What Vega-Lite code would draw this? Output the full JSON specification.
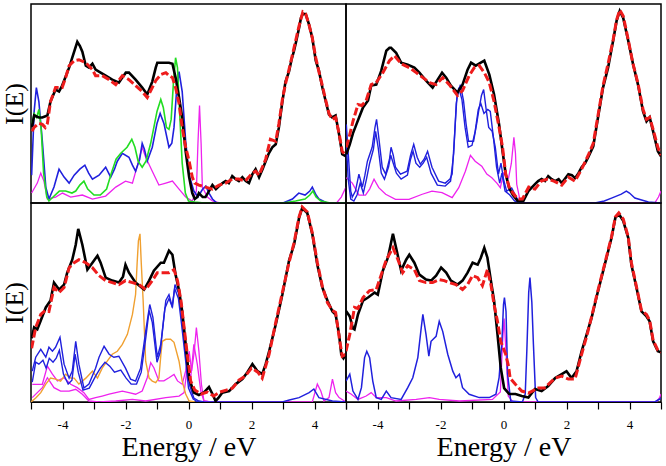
{
"$schema": "https://vega.github.io/schema/vega-lite/v6.json",
"padding": {"left": 0, "top": 3, "right": 3, "bottom": 0},
"background": "white",
"config": {"font": "Liberation Serif", "view": {"stroke": "black", "strokeWidth": 1.5}, "axis": {"grid": false}},
"columns": 2,
"spacing": 0,
"bounds": "flush",
"datasets": {
"fermi": [{"x": 0}],
"ak": [{"x":-4.97,"y":0.38},{"x":-4.9,"y":0.44},{"x":-4.75,"y":0.43},{"x":-4.64,"y":0.43},{"x":-4.48,"y":0.44},{"x":-4.38,"y":0.51},{"x":-4.22,"y":0.57},{"x":-4.11,"y":0.56},{"x":-4.01,"y":0.59},{"x":-3.79,"y":0.68},{"x":-3.69,"y":0.73},{"x":-3.53,"y":0.81},{"x":-3.45,"y":0.79},{"x":-3.37,"y":0.76},{"x":-3.26,"y":0.69},{"x":-3.16,"y":0.68},{"x":-3.05,"y":0.7},{"x":-2.95,"y":0.67},{"x":-2.79,"y":0.655},{"x":-2.63,"y":0.64},{"x":-2.42,"y":0.62},{"x":-2.21,"y":0.605},{"x":-2.1,"y":0.63},{"x":-1.99,"y":0.655},{"x":-1.89,"y":0.655},{"x":-1.68,"y":0.62},{"x":-1.47,"y":0.58},{"x":-1.31,"y":0.545},{"x":-1.15,"y":0.61},{"x":-1.04,"y":0.68},{"x":-0.99,"y":0.705},{"x":-0.62,"y":0.705},{"x":-0.51,"y":0.7},{"x":-0.41,"y":0.63},{"x":-0.3,"y":0.53},{"x":-0.2,"y":0.43},{"x":-0.09,"y":0.26},{"x":0.02,"y":0.13},{"x":0.12,"y":0.05},{"x":0.2,"y":0.02},{"x":0.28,"y":0.03},{"x":0.33,"y":0.05},{"x":0.45,"y":0.03},{"x":0.54,"y":0.03},{"x":0.65,"y":0.06},{"x":0.76,"y":0.09},{"x":0.87,"y":0.07},{"x":0.97,"y":0.085},{"x":1.08,"y":0.1},{"x":1.18,"y":0.11},{"x":1.28,"y":0.1},{"x":1.39,"y":0.135},{"x":1.5,"y":0.12},{"x":1.6,"y":0.11},{"x":1.71,"y":0.13},{"x":1.82,"y":0.11},{"x":1.92,"y":0.1},{"x":2.03,"y":0.145},{"x":2.13,"y":0.17},{"x":2.24,"y":0.13},{"x":2.35,"y":0.17},{"x":2.45,"y":0.21},{"x":2.55,"y":0.25},{"x":2.66,"y":0.28},{"x":2.77,"y":0.295},{"x":2.87,"y":0.38},{"x":2.98,"y":0.51},{"x":3.08,"y":0.61},{"x":3.19,"y":0.66},{"x":3.27,"y":0.72},{"x":3.35,"y":0.765},{"x":3.43,"y":0.82},{"x":3.51,"y":0.88},{"x":3.57,"y":0.93},{"x":3.63,"y":0.95},{"x":3.72,"y":0.95},{"x":3.82,"y":0.9},{"x":3.93,"y":0.83},{"x":4.04,"y":0.715},{"x":4.14,"y":0.665},{"x":4.25,"y":0.58},{"x":4.35,"y":0.515},{"x":4.46,"y":0.445},{"x":4.56,"y":0.43},{"x":4.67,"y":0.44},{"x":4.78,"y":0.345},{"x":4.88,"y":0.245},{"x":4.99,"y":0.235}],
"ar": [{"x":-4.97,"y":0.36},{"x":-4.9,"y":0.38},{"x":-4.75,"y":0.4},{"x":-4.64,"y":0.395},{"x":-4.55,"y":0.38},{"x":-4.48,"y":0.4},{"x":-4.38,"y":0.51},{"x":-4.22,"y":0.58},{"x":-4.01,"y":0.58},{"x":-3.9,"y":0.63},{"x":-3.79,"y":0.69},{"x":-3.63,"y":0.715},{"x":-3.48,"y":0.72},{"x":-3.26,"y":0.705},{"x":-3.05,"y":0.67},{"x":-2.95,"y":0.64},{"x":-2.74,"y":0.64},{"x":-2.52,"y":0.62},{"x":-2.31,"y":0.595},{"x":-2.1,"y":0.64},{"x":-1.89,"y":0.62},{"x":-1.68,"y":0.59},{"x":-1.47,"y":0.56},{"x":-1.31,"y":0.53},{"x":-1.15,"y":0.58},{"x":-1.04,"y":0.615},{"x":-0.88,"y":0.645},{"x":-0.72,"y":0.655},{"x":-0.62,"y":0.64},{"x":-0.51,"y":0.63},{"x":-0.41,"y":0.58},{"x":-0.3,"y":0.5},{"x":-0.2,"y":0.38},{"x":-0.09,"y":0.28},{"x":0.02,"y":0.21},{"x":0.12,"y":0.13},{"x":0.2,"y":0.1},{"x":0.33,"y":0.09},{"x":0.54,"y":0.08},{"x":0.76,"y":0.07},{"x":0.97,"y":0.09},{"x":1.18,"y":0.1},{"x":1.39,"y":0.12},{"x":1.6,"y":0.12},{"x":1.8,"y":0.11},{"x":2.03,"y":0.15},{"x":2.13,"y":0.16},{"x":2.24,"y":0.14},{"x":2.45,"y":0.22},{"x":2.6,"y":0.32},{"x":2.77,"y":0.31},{"x":2.87,"y":0.4},{"x":2.98,"y":0.52},{"x":3.08,"y":0.6},{"x":3.19,"y":0.67},{"x":3.35,"y":0.78},{"x":3.51,"y":0.89},{"x":3.63,"y":0.96},{"x":3.72,"y":0.95},{"x":3.82,"y":0.9},{"x":3.93,"y":0.83},{"x":4.04,"y":0.73},{"x":4.14,"y":0.66},{"x":4.25,"y":0.59},{"x":4.35,"y":0.52},{"x":4.46,"y":0.45},{"x":4.56,"y":0.42},{"x":4.67,"y":0.43},{"x":4.78,"y":0.35},{"x":4.88,"y":0.26},{"x":4.99,"y":0.24}],
"ab": [{"x":-4.98,"y":0.14},{"x":-4.9,"y":0.46},{"x":-4.83,"y":0.58},{"x":-4.75,"y":0.51},{"x":-4.64,"y":0.31},{"x":-4.53,"y":0.08},{"x":-4.43,"y":0.02},{"x":-4.27,"y":0.08},{"x":-4.11,"y":0.17},{"x":-3.95,"y":0.13},{"x":-3.79,"y":0.1},{"x":-3.63,"y":0.14},{"x":-3.45,"y":0.17},{"x":-3.29,"y":0.19},{"x":-3.17,"y":0.15},{"x":-3.05,"y":0.12},{"x":-2.84,"y":0.14},{"x":-2.63,"y":0.18},{"x":-2.47,"y":0.13},{"x":-2.35,"y":0.17},{"x":-2.26,"y":0.21},{"x":-2.1,"y":0.25},{"x":-1.89,"y":0.23},{"x":-1.78,"y":0.19},{"x":-1.68,"y":0.16},{"x":-1.55,"y":0.22},{"x":-1.47,"y":0.3},{"x":-1.4,"y":0.27},{"x":-1.31,"y":0.21},{"x":-1.15,"y":0.28},{"x":-1.0,"y":0.4},{"x":-0.9,"y":0.45},{"x":-0.78,"y":0.4},{"x":-0.62,"y":0.28},{"x":-0.53,"y":0.3},{"x":-0.46,"y":0.38},{"x":-0.38,"y":0.56},{"x":-0.3,"y":0.66},{"x":-0.2,"y":0.56},{"x":-0.09,"y":0.31},{"x":0.02,"y":0.14},{"x":0.17,"y":0.06},{"x":0.3,"y":0.03},{"x":0.45,"y":0.07},{"x":0.55,"y":0.085},{"x":0.65,"y":0.05},{"x":0.76,"y":0.02},{"x":0.9,"y":0.0},{"x":3.0,"y":0.0},{"x":3.3,"y":0.02},{"x":3.5,"y":0.05},{"x":3.7,"y":0.04},{"x":3.85,"y":0.06},{"x":3.93,"y":0.08},{"x":4.05,"y":0.04},{"x":4.14,"y":0.02},{"x":4.4,"y":0.0},{"x":5.0,"y":0.0}],
"ag": [{"x":-4.97,"y":0.4},{"x":-4.9,"y":0.45},{"x":-4.82,"y":0.43},{"x":-4.75,"y":0.47},{"x":-4.68,"y":0.38},{"x":-4.6,"y":0.15},{"x":-4.5,"y":0.03},{"x":-4.43,"y":0.01},{"x":-4.3,"y":0.03},{"x":-4.1,"y":0.06},{"x":-3.9,"y":0.06},{"x":-3.7,"y":0.05},{"x":-3.58,"y":0.06},{"x":-3.45,"y":0.09},{"x":-3.32,"y":0.11},{"x":-3.2,"y":0.07},{"x":-3.0,"y":0.04},{"x":-2.8,"y":0.04},{"x":-2.6,"y":0.07},{"x":-2.45,"y":0.15},{"x":-2.3,"y":0.22},{"x":-2.15,"y":0.25},{"x":-1.95,"y":0.28},{"x":-1.8,"y":0.32},{"x":-1.7,"y":0.28},{"x":-1.6,"y":0.21},{"x":-1.47,"y":0.18},{"x":-1.35,"y":0.21},{"x":-1.2,"y":0.3},{"x":-1.0,"y":0.46},{"x":-0.88,"y":0.52},{"x":-0.8,"y":0.48},{"x":-0.7,"y":0.38},{"x":-0.62,"y":0.37},{"x":-0.55,"y":0.42},{"x":-0.48,"y":0.6},{"x":-0.41,"y":0.73},{"x":-0.35,"y":0.68},{"x":-0.28,"y":0.45},{"x":-0.2,"y":0.2},{"x":-0.1,"y":0.05},{"x":0.0,"y":0.01},{"x":0.2,"y":0.005},{"x":0.5,"y":0.0},{"x":3.0,"y":0.0},{"x":3.4,"y":0.01},{"x":3.7,"y":0.02},{"x":3.85,"y":0.04},{"x":3.95,"y":0.06},{"x":4.05,"y":0.03},{"x":4.2,"y":0.01},{"x":4.5,"y":0.0},{"x":5.0,"y":0.0}],
"am": [{"x":-4.98,"y":0.05},{"x":-4.8,"y":0.1},{"x":-4.69,"y":0.15},{"x":-4.59,"y":0.11},{"x":-4.48,"y":0.02},{"x":-4.22,"y":0.03},{"x":-4.0,"y":0.05},{"x":-3.74,"y":0.03},{"x":-3.37,"y":0.04},{"x":-3.05,"y":0.02},{"x":-2.63,"y":0.035},{"x":-2.31,"y":0.08},{"x":-2.0,"y":0.11},{"x":-1.78,"y":0.1},{"x":-1.62,"y":0.19},{"x":-1.47,"y":0.28},{"x":-1.36,"y":0.23},{"x":-1.15,"y":0.16},{"x":-0.94,"y":0.09},{"x":-0.72,"y":0.1},{"x":-0.51,"y":0.11},{"x":-0.3,"y":0.07},{"x":-0.09,"y":0.03},{"x":0.12,"y":0.01},{"x":0.25,"y":0.06},{"x":0.3,"y":0.3},{"x":0.35,"y":0.49},{"x":0.4,"y":0.3},{"x":0.44,"y":0.08},{"x":0.6,"y":0.03},{"x":0.76,"y":0.01},{"x":1.0,"y":0.0},{"x":4.7,"y":0.0},{"x":4.85,"y":0.03},{"x":5.0,"y":0.08}],
"bk": [{"x":-4.99,"y":0.245},{"x":-4.88,"y":0.295},{"x":-4.78,"y":0.35},{"x":-4.67,"y":0.395},{"x":-4.56,"y":0.44},{"x":-4.46,"y":0.48},{"x":-4.3,"y":0.515},{"x":-4.2,"y":0.59},{"x":-4.04,"y":0.595},{"x":-3.88,"y":0.665},{"x":-3.72,"y":0.765},{"x":-3.62,"y":0.78},{"x":-3.57,"y":0.78},{"x":-3.41,"y":0.755},{"x":-3.25,"y":0.705},{"x":-3.04,"y":0.695},{"x":-2.83,"y":0.68},{"x":-2.67,"y":0.655},{"x":-2.46,"y":0.615},{"x":-2.25,"y":0.58},{"x":-2.09,"y":0.62},{"x":-1.95,"y":0.655},{"x":-1.82,"y":0.63},{"x":-1.67,"y":0.59},{"x":-1.46,"y":0.555},{"x":-1.3,"y":0.595},{"x":-1.14,"y":0.67},{"x":-1.03,"y":0.705},{"x":-0.88,"y":0.69},{"x":-0.72,"y":0.705},{"x":-0.61,"y":0.715},{"x":-0.45,"y":0.645},{"x":-0.3,"y":0.545},{"x":-0.14,"y":0.395},{"x":-0.03,"y":0.26},{"x":0.07,"y":0.145},{"x":0.18,"y":0.075},{"x":0.3,"y":0.04},{"x":0.45,"y":0.01},{"x":0.63,"y":0.01},{"x":0.79,"y":0.06},{"x":1.0,"y":0.095},{"x":1.1,"y":0.11},{"x":1.21,"y":0.12},{"x":1.32,"y":0.11},{"x":1.42,"y":0.135},{"x":1.53,"y":0.12},{"x":1.64,"y":0.11},{"x":1.75,"y":0.12},{"x":1.85,"y":0.1},{"x":2.06,"y":0.145},{"x":2.17,"y":0.14},{"x":2.27,"y":0.125},{"x":2.38,"y":0.15},{"x":2.48,"y":0.18},{"x":2.59,"y":0.2},{"x":2.69,"y":0.23},{"x":2.85,"y":0.285},{"x":3.0,"y":0.43},{"x":3.16,"y":0.58},{"x":3.32,"y":0.68},{"x":3.48,"y":0.815},{"x":3.59,"y":0.915},{"x":3.69,"y":0.965},{"x":3.8,"y":0.93},{"x":3.96,"y":0.815},{"x":4.11,"y":0.7},{"x":4.27,"y":0.595},{"x":4.43,"y":0.46},{"x":4.54,"y":0.41},{"x":4.64,"y":0.43},{"x":4.75,"y":0.36},{"x":4.9,"y":0.26},{"x":5.0,"y":0.235}],
"br": [{"x":-4.99,"y":0.28},{"x":-4.9,"y":0.33},{"x":-4.78,"y":0.41},{"x":-4.62,"y":0.495},{"x":-4.5,"y":0.49},{"x":-4.36,"y":0.515},{"x":-4.2,"y":0.595},{"x":-4.04,"y":0.605},{"x":-3.83,"y":0.655},{"x":-3.62,"y":0.715},{"x":-3.46,"y":0.74},{"x":-3.25,"y":0.7},{"x":-2.99,"y":0.68},{"x":-2.77,"y":0.655},{"x":-2.56,"y":0.63},{"x":-2.35,"y":0.605},{"x":-2.14,"y":0.595},{"x":-1.93,"y":0.63},{"x":-1.72,"y":0.595},{"x":-1.46,"y":0.54},{"x":-1.3,"y":0.565},{"x":-1.09,"y":0.64},{"x":-0.93,"y":0.68},{"x":-0.77,"y":0.69},{"x":-0.61,"y":0.655},{"x":-0.45,"y":0.605},{"x":-0.3,"y":0.51},{"x":-0.14,"y":0.38},{"x":-0.03,"y":0.28},{"x":0.07,"y":0.145},{"x":0.18,"y":0.08},{"x":0.3,"y":0.05},{"x":0.45,"y":0.02},{"x":0.6,"y":0.02},{"x":0.8,"y":0.08},{"x":1.0,"y":0.07},{"x":1.2,"y":0.11},{"x":1.4,"y":0.12},{"x":1.6,"y":0.11},{"x":1.85,"y":0.09},{"x":2.06,"y":0.13},{"x":2.27,"y":0.11},{"x":2.48,"y":0.17},{"x":2.69,"y":0.24},{"x":2.85,"y":0.3},{"x":3.0,"y":0.44},{"x":3.16,"y":0.59},{"x":3.32,"y":0.7},{"x":3.48,"y":0.82},{"x":3.59,"y":0.92},{"x":3.69,"y":0.97},{"x":3.8,"y":0.94},{"x":3.96,"y":0.82},{"x":4.11,"y":0.7},{"x":4.27,"y":0.6},{"x":4.43,"y":0.47},{"x":4.54,"y":0.42},{"x":4.64,"y":0.43},{"x":4.75,"y":0.37},{"x":4.9,"y":0.28},{"x":5.0,"y":0.24}],
"bb1": [{"x":-4.99,"y":0.395},{"x":-4.93,"y":0.25},{"x":-4.85,"y":0.06},{"x":-4.8,"y":0.03},{"x":-4.7,"y":0.06},{"x":-4.59,"y":0.145},{"x":-4.48,"y":0.08},{"x":-4.4,"y":0.14},{"x":-4.32,"y":0.21},{"x":-4.17,"y":0.28},{"x":-4.08,"y":0.38},{"x":-4.03,"y":0.42},{"x":-3.96,"y":0.33},{"x":-3.85,"y":0.18},{"x":-3.74,"y":0.145},{"x":-3.62,"y":0.22},{"x":-3.57,"y":0.28},{"x":-3.5,"y":0.24},{"x":-3.43,"y":0.18},{"x":-3.27,"y":0.145},{"x":-3.06,"y":0.16},{"x":-2.95,"y":0.24},{"x":-2.85,"y":0.295},{"x":-2.74,"y":0.23},{"x":-2.64,"y":0.195},{"x":-2.52,"y":0.22},{"x":-2.41,"y":0.26},{"x":-2.27,"y":0.18},{"x":-2.06,"y":0.11},{"x":-1.85,"y":0.1},{"x":-1.7,"y":0.12},{"x":-1.63,"y":0.145},{"x":-1.55,"y":0.35},{"x":-1.48,"y":0.53},{"x":-1.37,"y":0.595},{"x":-1.27,"y":0.515},{"x":-1.19,"y":0.4},{"x":-1.11,"y":0.31},{"x":-0.95,"y":0.31},{"x":-0.85,"y":0.4},{"x":-0.79,"y":0.46},{"x":-0.7,"y":0.54},{"x":-0.63,"y":0.57},{"x":-0.55,"y":0.47},{"x":-0.47,"y":0.38},{"x":-0.36,"y":0.36},{"x":-0.26,"y":0.28},{"x":-0.16,"y":0.145},{"x":-0.08,"y":0.2},{"x":0.0,"y":0.12},{"x":0.1,"y":0.06},{"x":0.26,"y":0.075},{"x":0.42,"y":0.025},{"x":0.55,"y":0.0},{"x":2.9,"y":0.0},{"x":3.2,"y":0.01},{"x":3.43,"y":0.025},{"x":3.74,"y":0.045},{"x":3.9,"y":0.06},{"x":4.0,"y":0.05},{"x":4.17,"y":0.025},{"x":4.6,"y":0.005},{"x":5.0,"y":0.0}],
"bb2": [{"x":-4.99,"y":0.3},{"x":-4.93,"y":0.12},{"x":-4.85,"y":0.02},{"x":-4.75,"y":0.01},{"x":-4.65,"y":0.04},{"x":-4.55,"y":0.1},{"x":-4.45,"y":0.05},{"x":-4.35,"y":0.12},{"x":-4.25,"y":0.2},{"x":-4.13,"y":0.27},{"x":-4.06,"y":0.36},{"x":-3.98,"y":0.28},{"x":-3.88,"y":0.15},{"x":-3.78,"y":0.12},{"x":-3.65,"y":0.18},{"x":-3.58,"y":0.24},{"x":-3.5,"y":0.2},{"x":-3.4,"y":0.15},{"x":-3.25,"y":0.12},{"x":-3.05,"y":0.14},{"x":-2.95,"y":0.22},{"x":-2.87,"y":0.26},{"x":-2.78,"y":0.2},{"x":-2.66,"y":0.18},{"x":-2.55,"y":0.2},{"x":-2.44,"y":0.23},{"x":-2.3,"y":0.15},{"x":-2.1,"y":0.09},{"x":-1.85,"y":0.085},{"x":-1.68,"y":0.11},{"x":-1.58,"y":0.25},{"x":-1.5,"y":0.5},{"x":-1.42,"y":0.58},{"x":-1.32,"y":0.52},{"x":-1.22,"y":0.38},{"x":-1.12,"y":0.28},{"x":-1.0,"y":0.29},{"x":-0.9,"y":0.36},{"x":-0.8,"y":0.47},{"x":-0.72,"y":0.5},{"x":-0.62,"y":0.45},{"x":-0.5,"y":0.47},{"x":-0.42,"y":0.46},{"x":-0.32,"y":0.33},{"x":-0.22,"y":0.18},{"x":-0.12,"y":0.1},{"x":-0.05,"y":0.15},{"x":0.05,"y":0.06},{"x":0.2,"y":0.04},{"x":0.35,"y":0.01},{"x":0.5,"y":0.0}],
"bm": [{"x":-4.99,"y":0.127},{"x":-4.8,"y":0.1},{"x":-4.59,"y":0.04},{"x":-4.38,"y":0.04},{"x":-4.25,"y":0.07},{"x":-4.11,"y":0.12},{"x":-3.96,"y":0.077},{"x":-3.74,"y":0.044},{"x":-3.43,"y":0.018},{"x":-3.0,"y":0.018},{"x":-2.58,"y":0.044},{"x":-2.27,"y":0.06},{"x":-1.95,"y":0.052},{"x":-1.63,"y":0.027},{"x":-1.42,"y":0.077},{"x":-1.21,"y":0.16},{"x":-1.05,"y":0.24},{"x":-0.9,"y":0.21},{"x":-0.69,"y":0.185},{"x":-0.53,"y":0.145},{"x":-0.37,"y":0.127},{"x":-0.21,"y":0.1},{"x":-0.1,"y":0.077},{"x":0.0,"y":0.15},{"x":0.08,"y":0.14},{"x":0.16,"y":0.125},{"x":0.25,"y":0.2},{"x":0.33,"y":0.33},{"x":0.38,"y":0.25},{"x":0.42,"y":0.094},{"x":0.53,"y":0.01},{"x":0.7,"y":0.0},{"x":4.8,"y":0.0},{"x":4.92,"y":0.03},{"x":5.0,"y":0.06}],
"ck": [{"x":-4.98,"y":0.32},{"x":-4.9,"y":0.375},{"x":-4.8,"y":0.365},{"x":-4.69,"y":0.41},{"x":-4.53,"y":0.475},{"x":-4.38,"y":0.51},{"x":-4.27,"y":0.6},{"x":-4.11,"y":0.565},{"x":-3.95,"y":0.59},{"x":-3.85,"y":0.65},{"x":-3.69,"y":0.715},{"x":-3.58,"y":0.79},{"x":-3.5,"y":0.87},{"x":-3.37,"y":0.79},{"x":-3.21,"y":0.665},{"x":-3.05,"y":0.7},{"x":-2.89,"y":0.735},{"x":-2.79,"y":0.7},{"x":-2.63,"y":0.625},{"x":-2.42,"y":0.61},{"x":-2.21,"y":0.6},{"x":-2.08,"y":0.63},{"x":-2.0,"y":0.69},{"x":-1.89,"y":0.65},{"x":-1.68,"y":0.6},{"x":-1.41,"y":0.565},{"x":-1.25,"y":0.61},{"x":-1.1,"y":0.66},{"x":-0.88,"y":0.7},{"x":-0.78,"y":0.7},{"x":-0.62,"y":0.76},{"x":-0.51,"y":0.74},{"x":-0.41,"y":0.64},{"x":-0.3,"y":0.56},{"x":-0.2,"y":0.455},{"x":-0.09,"y":0.29},{"x":0.02,"y":0.12},{"x":0.17,"y":0.047},{"x":0.33,"y":0.035},{"x":0.5,"y":0.05},{"x":0.65,"y":0.075},{"x":0.76,"y":0.04},{"x":0.86,"y":0.005},{"x":0.95,"y":0.02},{"x":1.07,"y":0.047},{"x":1.29,"y":0.055},{"x":1.5,"y":0.09},{"x":1.71,"y":0.115},{"x":1.87,"y":0.15},{"x":2.03,"y":0.19},{"x":2.19,"y":0.155},{"x":2.34,"y":0.14},{"x":2.45,"y":0.19},{"x":2.56,"y":0.255},{"x":2.77,"y":0.39},{"x":2.98,"y":0.54},{"x":3.19,"y":0.71},{"x":3.35,"y":0.79},{"x":3.51,"y":0.925},{"x":3.61,"y":0.975},{"x":3.77,"y":0.95},{"x":3.93,"y":0.845},{"x":4.09,"y":0.69},{"x":4.25,"y":0.575},{"x":4.41,"y":0.51},{"x":4.57,"y":0.455},{"x":4.67,"y":0.44},{"x":4.78,"y":0.34},{"x":4.85,"y":0.24},{"x":4.92,"y":0.22},{"x":5.0,"y":0.24}],
"cr": [{"x":-4.98,"y":0.27},{"x":-4.85,"y":0.375},{"x":-4.69,"y":0.44},{"x":-4.55,"y":0.46},{"x":-4.43,"y":0.455},{"x":-4.27,"y":0.575},{"x":-4.11,"y":0.55},{"x":-3.95,"y":0.575},{"x":-3.79,"y":0.675},{"x":-3.63,"y":0.7},{"x":-3.48,"y":0.715},{"x":-3.26,"y":0.7},{"x":-3.05,"y":0.675},{"x":-2.84,"y":0.635},{"x":-2.63,"y":0.61},{"x":-2.42,"y":0.6},{"x":-2.21,"y":0.59},{"x":-2.0,"y":0.61},{"x":-1.78,"y":0.6},{"x":-1.57,"y":0.59},{"x":-1.36,"y":0.565},{"x":-1.15,"y":0.61},{"x":-0.99,"y":0.65},{"x":-0.83,"y":0.65},{"x":-0.62,"y":0.65},{"x":-0.46,"y":0.665},{"x":-0.35,"y":0.61},{"x":-0.24,"y":0.51},{"x":-0.14,"y":0.375},{"x":-0.04,"y":0.24},{"x":0.07,"y":0.105},{"x":0.2,"y":0.06},{"x":0.4,"y":0.04},{"x":0.6,"y":0.05},{"x":0.8,"y":0.03},{"x":1.0,"y":0.05},{"x":1.2,"y":0.06},{"x":1.4,"y":0.07},{"x":1.6,"y":0.11},{"x":1.8,"y":0.13},{"x":2.0,"y":0.17},{"x":2.2,"y":0.15},{"x":2.34,"y":0.12},{"x":2.56,"y":0.24},{"x":2.77,"y":0.4},{"x":2.98,"y":0.55},{"x":3.19,"y":0.7},{"x":3.35,"y":0.8},{"x":3.51,"y":0.93},{"x":3.61,"y":0.98},{"x":3.77,"y":0.955},{"x":3.93,"y":0.85},{"x":4.09,"y":0.7},{"x":4.25,"y":0.58},{"x":4.41,"y":0.5},{"x":4.57,"y":0.46},{"x":4.67,"y":0.45},{"x":4.78,"y":0.33},{"x":4.88,"y":0.23},{"x":5.0,"y":0.24}],
"co": [{"x":-5.0,"y":0.0},{"x":-4.85,"y":0.02},{"x":-4.69,"y":0.047},{"x":-4.53,"y":0.09},{"x":-4.38,"y":0.12},{"x":-4.22,"y":0.115},{"x":-4.06,"y":0.105},{"x":-3.9,"y":0.14},{"x":-3.74,"y":0.12},{"x":-3.63,"y":0.12},{"x":-3.48,"y":0.09},{"x":-3.26,"y":0.12},{"x":-3.05,"y":0.155},{"x":-2.89,"y":0.12},{"x":-2.74,"y":0.17},{"x":-2.58,"y":0.205},{"x":-2.42,"y":0.24},{"x":-2.26,"y":0.255},{"x":-2.1,"y":0.29},{"x":-1.94,"y":0.34},{"x":-1.78,"y":0.44},{"x":-1.68,"y":0.54},{"x":-1.63,"y":0.7},{"x":-1.59,"y":0.81},{"x":-1.54,"y":0.845},{"x":-1.5,"y":0.7},{"x":-1.44,"y":0.51},{"x":-1.36,"y":0.205},{"x":-1.25,"y":0.12},{"x":-1.15,"y":0.105},{"x":-1.04,"y":0.097},{"x":-0.94,"y":0.12},{"x":-0.87,"y":0.25},{"x":-0.83,"y":0.305},{"x":-0.72,"y":0.315},{"x":-0.57,"y":0.315},{"x":-0.46,"y":0.3},{"x":-0.3,"y":0.205},{"x":-0.2,"y":0.105},{"x":-0.09,"y":0.04},{"x":0.02,"y":0.005},{"x":0.2,"y":0.0}],
"cb1": [{"x":-4.96,"y":0.155},{"x":-4.85,"y":0.225},{"x":-4.69,"y":0.265},{"x":-4.53,"y":0.225},{"x":-4.43,"y":0.275},{"x":-4.32,"y":0.255},{"x":-4.22,"y":0.275},{"x":-4.08,"y":0.325},{"x":-3.95,"y":0.19},{"x":-3.79,"y":0.12},{"x":-3.69,"y":0.155},{"x":-3.58,"y":0.305},{"x":-3.48,"y":0.19},{"x":-3.32,"y":0.07},{"x":-3.16,"y":0.09},{"x":-2.95,"y":0.17},{"x":-2.84,"y":0.225},{"x":-2.68,"y":0.28},{"x":-2.52,"y":0.24},{"x":-2.37,"y":0.225},{"x":-2.21,"y":0.23},{"x":-2.0,"y":0.17},{"x":-1.84,"y":0.115},{"x":-1.68,"y":0.105},{"x":-1.52,"y":0.17},{"x":-1.36,"y":0.355},{"x":-1.23,"y":0.49},{"x":-1.13,"y":0.425},{"x":-0.99,"y":0.225},{"x":-0.88,"y":0.29},{"x":-0.72,"y":0.51},{"x":-0.62,"y":0.54},{"x":-0.51,"y":0.475},{"x":-0.43,"y":0.59},{"x":-0.3,"y":0.54},{"x":-0.2,"y":0.405},{"x":-0.09,"y":0.255},{"x":0.02,"y":0.09},{"x":0.17,"y":0.02},{"x":0.33,"y":0.005},{"x":0.5,"y":0.0},{"x":2.98,"y":0.0},{"x":3.2,"y":0.01},{"x":3.51,"y":0.022},{"x":3.83,"y":0.047},{"x":3.98,"y":0.065},{"x":4.14,"y":0.022},{"x":4.57,"y":0.005},{"x":5.0,"y":0.0}],
"cb2": [{"x":-4.96,"y":0.1},{"x":-4.85,"y":0.2},{"x":-4.75,"y":0.19},{"x":-4.62,"y":0.21},{"x":-4.52,"y":0.17},{"x":-4.42,"y":0.22},{"x":-4.3,"y":0.2},{"x":-4.2,"y":0.22},{"x":-4.1,"y":0.26},{"x":-3.97,"y":0.14},{"x":-3.82,"y":0.09},{"x":-3.7,"y":0.11},{"x":-3.6,"y":0.24},{"x":-3.5,"y":0.15},{"x":-3.35,"y":0.06},{"x":-3.15,"y":0.07},{"x":-2.95,"y":0.13},{"x":-2.8,"y":0.17},{"x":-2.65,"y":0.2},{"x":-2.5,"y":0.18},{"x":-2.35,"y":0.15},{"x":-2.15,"y":0.16},{"x":-1.98,"y":0.12},{"x":-1.82,"y":0.09},{"x":-1.65,"y":0.09},{"x":-1.5,"y":0.15},{"x":-1.35,"y":0.33},{"x":-1.25,"y":0.46},{"x":-1.15,"y":0.4},{"x":-1.0,"y":0.2},{"x":-0.9,"y":0.25},{"x":-0.75,"y":0.47},{"x":-0.62,"y":0.52},{"x":-0.52,"y":0.48},{"x":-0.44,"y":0.57},{"x":-0.32,"y":0.52},{"x":-0.22,"y":0.39},{"x":-0.1,"y":0.22},{"x":0.0,"y":0.07},{"x":0.15,"y":0.015},{"x":0.3,"y":0.0}],
"cm1": [{"x":-4.96,"y":0.089},{"x":-4.64,"y":0.089},{"x":-4.48,"y":0.18},{"x":-4.32,"y":0.14},{"x":-4.16,"y":0.106},{"x":-3.95,"y":0.122},{"x":-3.74,"y":0.089},{"x":-3.53,"y":0.072},{"x":-3.32,"y":0.047},{"x":-3.16,"y":0.013},{"x":-2.95,"y":0.022},{"x":-2.74,"y":0.03},{"x":-2.52,"y":0.039},{"x":-2.31,"y":0.047},{"x":-2.1,"y":0.055},{"x":-1.89,"y":0.047},{"x":-1.68,"y":0.039},{"x":-1.47,"y":0.055},{"x":-1.31,"y":0.122},{"x":-1.2,"y":0.198},{"x":-1.1,"y":0.172},{"x":-0.94,"y":0.106},{"x":-0.78,"y":0.106},{"x":-0.62,"y":0.122},{"x":-0.46,"y":0.139},{"x":-0.35,"y":0.106},{"x":-0.2,"y":0.089},{"x":-0.09,"y":0.156},{"x":0.02,"y":0.256},{"x":0.1,"y":0.156},{"x":0.18,"y":0.25},{"x":0.25,"y":0.374},{"x":0.33,"y":0.256},{"x":0.41,"y":0.089},{"x":0.49,"y":0.005},{"x":0.7,"y":0.0},{"x":3.93,"y":0.0},{"x":4.09,"y":0.09},{"x":4.2,"y":0.055},{"x":4.3,"y":0.005},{"x":4.46,"y":0.022},{"x":4.57,"y":0.115},{"x":4.67,"y":0.047},{"x":4.78,"y":0.022},{"x":4.9,"y":0.01},{"x":5.0,"y":0.0}],
"cm2": [{"x":-4.96,"y":0.022},{"x":-4.8,"y":0.047},{"x":-4.64,"y":0.072},{"x":-4.48,"y":0.122},{"x":-4.27,"y":0.072},{"x":-4.06,"y":0.055},{"x":-3.79,"y":0.055},{"x":-3.58,"y":0.064},{"x":-3.37,"y":0.039},{"x":-3.16,"y":0.005},{"x":-2.84,"y":0.0},{"x":-2.31,"y":0.005},{"x":-1.78,"y":0.013},{"x":-1.36,"y":0.005},{"x":-0.72,"y":0.022},{"x":-0.3,"y":0.03},{"x":-0.14,"y":0.047},{"x":-0.04,"y":0.172},{"x":0.07,"y":0.122},{"x":0.17,"y":0.29},{"x":0.28,"y":0.189},{"x":0.39,"y":0.055},{"x":0.49,"y":0.005},{"x":0.7,"y":0.0}],
"dk": [{"x":-5.0,"y":0.457},{"x":-4.88,"y":0.43},{"x":-4.78,"y":0.37},{"x":-4.73,"y":0.365},{"x":-4.62,"y":0.44},{"x":-4.46,"y":0.51},{"x":-4.3,"y":0.525},{"x":-4.09,"y":0.55},{"x":-3.99,"y":0.54},{"x":-3.83,"y":0.66},{"x":-3.67,"y":0.725},{"x":-3.51,"y":0.845},{"x":-3.41,"y":0.775},{"x":-3.25,"y":0.66},{"x":-3.09,"y":0.715},{"x":-2.99,"y":0.74},{"x":-2.83,"y":0.7},{"x":-2.67,"y":0.64},{"x":-2.46,"y":0.615},{"x":-2.3,"y":0.61},{"x":-2.14,"y":0.635},{"x":-1.98,"y":0.675},{"x":-1.82,"y":0.65},{"x":-1.67,"y":0.61},{"x":-1.46,"y":0.59},{"x":-1.3,"y":0.61},{"x":-1.14,"y":0.65},{"x":-0.98,"y":0.7},{"x":-0.82,"y":0.69},{"x":-0.72,"y":0.725},{"x":-0.61,"y":0.775},{"x":-0.51,"y":0.725},{"x":-0.4,"y":0.61},{"x":-0.3,"y":0.51},{"x":-0.19,"y":0.34},{"x":-0.09,"y":0.175},{"x":0.02,"y":0.07},{"x":0.18,"y":0.04},{"x":0.38,"y":0.04},{"x":0.58,"y":0.03},{"x":0.79,"y":0.022},{"x":1.0,"y":0.065},{"x":1.21,"y":0.055},{"x":1.42,"y":0.08},{"x":1.64,"y":0.12},{"x":1.85,"y":0.14},{"x":2.0,"y":0.155},{"x":2.16,"y":0.12},{"x":2.32,"y":0.155},{"x":2.48,"y":0.255},{"x":2.64,"y":0.34},{"x":2.8,"y":0.425},{"x":2.95,"y":0.525},{"x":3.11,"y":0.625},{"x":3.27,"y":0.725},{"x":3.43,"y":0.825},{"x":3.55,"y":0.925},{"x":3.66,"y":0.945},{"x":3.8,"y":0.91},{"x":3.96,"y":0.825},{"x":4.06,"y":0.69},{"x":4.22,"y":0.575},{"x":4.38,"y":0.455},{"x":4.54,"y":0.43},{"x":4.64,"y":0.405},{"x":4.75,"y":0.305},{"x":4.9,"y":0.255},{"x":5.0,"y":0.25}],
"dr": [{"x":-5.0,"y":0.255},{"x":-4.88,"y":0.34},{"x":-4.73,"y":0.475},{"x":-4.62,"y":0.47},{"x":-4.46,"y":0.525},{"x":-4.25,"y":0.56},{"x":-4.04,"y":0.565},{"x":-3.88,"y":0.64},{"x":-3.72,"y":0.715},{"x":-3.51,"y":0.775},{"x":-3.35,"y":0.715},{"x":-3.2,"y":0.65},{"x":-3.04,"y":0.685},{"x":-2.83,"y":0.665},{"x":-2.67,"y":0.61},{"x":-2.46,"y":0.6},{"x":-2.25,"y":0.6},{"x":-2.04,"y":0.615},{"x":-1.88,"y":0.61},{"x":-1.72,"y":0.6},{"x":-1.51,"y":0.59},{"x":-1.3,"y":0.565},{"x":-1.14,"y":0.59},{"x":-0.98,"y":0.635},{"x":-0.82,"y":0.625},{"x":-0.67,"y":0.585},{"x":-0.51,"y":0.665},{"x":-0.4,"y":0.59},{"x":-0.3,"y":0.49},{"x":-0.19,"y":0.405},{"x":-0.09,"y":0.305},{"x":0.07,"y":0.24},{"x":0.16,"y":0.18},{"x":0.21,"y":0.12},{"x":0.37,"y":0.09},{"x":0.58,"y":0.055},{"x":0.79,"y":0.045},{"x":1.1,"y":0.07},{"x":1.3,"y":0.07},{"x":1.5,"y":0.1},{"x":1.64,"y":0.12},{"x":1.85,"y":0.13},{"x":2.06,"y":0.115},{"x":2.27,"y":0.115},{"x":2.48,"y":0.24},{"x":2.64,"y":0.33},{"x":2.8,"y":0.43},{"x":2.95,"y":0.53},{"x":3.11,"y":0.63},{"x":3.27,"y":0.73},{"x":3.43,"y":0.83},{"x":3.55,"y":0.93},{"x":3.66,"y":0.95},{"x":3.8,"y":0.92},{"x":3.96,"y":0.83},{"x":4.06,"y":0.7},{"x":4.22,"y":0.58},{"x":4.38,"y":0.46},{"x":4.54,"y":0.44},{"x":4.64,"y":0.41},{"x":4.75,"y":0.31},{"x":4.9,"y":0.26},{"x":5.0,"y":0.25}],
"db": [{"x":-5.0,"y":0.105},{"x":-4.88,"y":0.14},{"x":-4.78,"y":0.055},{"x":-4.62,"y":0.013},{"x":-4.51,"y":0.072},{"x":-4.41,"y":0.223},{"x":-4.34,"y":0.255},{"x":-4.25,"y":0.223},{"x":-4.15,"y":0.105},{"x":-4.04,"y":0.022},{"x":-3.88,"y":0.013},{"x":-3.72,"y":0.055},{"x":-3.57,"y":0.022},{"x":-3.25,"y":0.013},{"x":-3.04,"y":0.072},{"x":-2.88,"y":0.122},{"x":-2.72,"y":0.223},{"x":-2.61,"y":0.375},{"x":-2.56,"y":0.44},{"x":-2.46,"y":0.34},{"x":-2.37,"y":0.23},{"x":-2.3,"y":0.305},{"x":-2.14,"y":0.33},{"x":-2.04,"y":0.405},{"x":-1.93,"y":0.355},{"x":-1.77,"y":0.24},{"x":-1.61,"y":0.155},{"x":-1.51,"y":0.122},{"x":-1.4,"y":0.14},{"x":-1.3,"y":0.072},{"x":-1.09,"y":0.039},{"x":-0.77,"y":0.022},{"x":-0.45,"y":0.022},{"x":-0.24,"y":0.039},{"x":-0.14,"y":0.122},{"x":-0.05,"y":0.305},{"x":0.0,"y":0.49},{"x":0.03,"y":0.525},{"x":0.08,"y":0.455},{"x":0.13,"y":0.14},{"x":0.23,"y":0.005},{"x":0.6,"y":0.0},{"x":0.69,"y":0.04},{"x":0.74,"y":0.255},{"x":0.8,"y":0.55},{"x":0.84,"y":0.625},{"x":0.9,"y":0.5},{"x":0.95,"y":0.29},{"x":1.02,"y":0.022},{"x":1.1,"y":0.0},{"x":4.8,"y":0.0},{"x":4.96,"y":0.015},{"x":5.0,"y":0.02}],
"dm": [{"x":-5.0,"y":0.055},{"x":-4.83,"y":0.039},{"x":-4.62,"y":0.013},{"x":-4.36,"y":0.03},{"x":-4.2,"y":0.047},{"x":-4.04,"y":0.022},{"x":-3.72,"y":0.022},{"x":-3.41,"y":0.005},{"x":-2.77,"y":0.013},{"x":-2.35,"y":0.022},{"x":-2.04,"y":0.013},{"x":-1.4,"y":0.005},{"x":-0.35,"y":0.013},{"x":-0.1,"y":0.05},{"x":-0.03,"y":0.3},{"x":0.02,"y":0.42},{"x":0.08,"y":0.25},{"x":0.15,"y":0.03},{"x":0.3,"y":0.0},{"x":4.85,"y":0.0},{"x":4.95,"y":0.02},{"x":5.0,"y":0.04}]
},
"concat": [
{
"width": 315, "height": 199,
"encoding": {
"x": {"field": "x", "type": "quantitative", "scale": {"domain": [-5, 5], "nice": false, "zero": false}, "axis": null},
"y": {"field": "y", "type": "quantitative", "scale": {"domain": [0, 1], "nice": false}, "axis": {"title": "I(E)", "labels": false, "ticks": false, "domain": false, "titleFontSize": 26, "titleFontWeight": "normal", "titleColor": "black", "titlePadding": 4}}
},
"layer": [
{"data": {"name": "am"}, "mark": {"type": "line", "color": "#ee22ee", "strokeWidth": 1.3, "clip": true}, "encoding": {}},
{"data": {"name": "ab"}, "mark": {"type": "line", "color": "#2020dd", "strokeWidth": 1.6, "clip": true}, "encoding": {}},
{"data": {"name": "ag"}, "mark": {"type": "line", "color": "#22dd22", "strokeWidth": 1.6, "clip": true}, "encoding": {}},
{"data": {"name": "ak"}, "mark": {"type": "line", "color": "black", "strokeWidth": 2.6, "clip": true}, "encoding": {}},
{"data": {"name": "ar"}, "mark": {"type": "line", "color": "#ee1c1c", "strokeWidth": 3, "strokeDash": [8, 3], "clip": true}, "encoding": {}},
{"data": {"name": "fermi"}, "mark": {"type": "rule", "color": "#2a2aee", "strokeWidth": 2, "strokeDash": [7, 5]}, "encoding": {"x": {"field": "x", "type": "quantitative"}, "y": {"datum": 0}, "y2": {"datum": 1}}},
{"data": {"values": [{"lab": "(a)"}]}, "mark": {"type": "text", "align": "left", "baseline": "middle", "fontSize": 24, "color": "black"}, "encoding": {"x": {"datum": -4.65}, "y": {"datum": 0.89}, "text": {"field": "lab"}}}
]
},
{
"width": 315, "height": 199,
"encoding": {
"x": {"field": "x", "type": "quantitative", "scale": {"domain": [-5, 5], "nice": false, "zero": false}, "axis": null},
"y": {"field": "y", "type": "quantitative", "scale": {"domain": [0, 1], "nice": false}, "axis": null}
},
"layer": [
{"data": {"name": "bm"}, "mark": {"type": "line", "color": "#ee22ee", "strokeWidth": 1.3, "clip": true}, "encoding": {}},
{"data": {"name": "bb2"}, "mark": {"type": "line", "color": "#2020dd", "strokeWidth": 1.4, "clip": true}, "encoding": {}},
{"data": {"name": "bb1"}, "mark": {"type": "line", "color": "#2020dd", "strokeWidth": 1.4, "clip": true}, "encoding": {}},
{"data": {"name": "bk"}, "mark": {"type": "line", "color": "black", "strokeWidth": 2.6, "clip": true}, "encoding": {}},
{"data": {"name": "br"}, "mark": {"type": "line", "color": "#ee1c1c", "strokeWidth": 3, "strokeDash": [8, 3], "clip": true}, "encoding": {}},
{"data": {"name": "fermi"}, "mark": {"type": "rule", "color": "#2a2aee", "strokeWidth": 2, "strokeDash": [7, 5]}, "encoding": {"x": {"field": "x", "type": "quantitative"}, "y": {"datum": 0}, "y2": {"datum": 1}}},
{"data": {"values": [{"lab": "(b)"}]}, "mark": {"type": "text", "align": "left", "baseline": "middle", "fontSize": 24, "color": "black"}, "encoding": {"x": {"datum": -4.72}, "y": {"datum": 0.89}, "text": {"field": "lab"}}}
]
},
{
"width": 315, "height": 199,
"encoding": {
"x": {"field": "x", "type": "quantitative", "scale": {"domain": [-5, 5], "nice": false, "zero": false}, "axis": {"title": "Energy / eV", "values": [-5, -4, -3, -2, -1, 0, 1, 2, 3, 4, 5], "labelExpr": "datum.value % 2 == 0 ? '' + datum.value : ''", "tickSize": 7, "tickColor": "black", "tickWidth": 1.2, "domainColor": "black", "labelColor": "black", "labelFontSize": 13, "labelPadding": 9, "labelFlush": false, "titleFontSize": 28, "titleFontWeight": "normal", "titleColor": "black", "titlePadding": 2}},
"y": {"field": "y", "type": "quantitative", "scale": {"domain": [0, 1], "nice": false}, "axis": {"title": "I(E)", "labels": false, "ticks": false, "domain": false, "titleFontSize": 26, "titleFontWeight": "normal", "titleColor": "black", "titlePadding": 4}}
},
"layer": [
{"data": {"name": "cm2"}, "mark": {"type": "line", "color": "#ee22ee", "strokeWidth": 1.3, "clip": true}, "encoding": {}},
{"data": {"name": "cm1"}, "mark": {"type": "line", "color": "#ee22ee", "strokeWidth": 1.3, "clip": true}, "encoding": {}},
{"data": {"name": "co"}, "mark": {"type": "line", "color": "#f0a030", "strokeWidth": 1.4, "clip": true}, "encoding": {}},
{"data": {"name": "cb2"}, "mark": {"type": "line", "color": "#2020dd", "strokeWidth": 1.4, "clip": true}, "encoding": {}},
{"data": {"name": "cb1"}, "mark": {"type": "line", "color": "#2020dd", "strokeWidth": 1.4, "clip": true}, "encoding": {}},
{"data": {"name": "ck"}, "mark": {"type": "line", "color": "black", "strokeWidth": 2.6, "clip": true}, "encoding": {}},
{"data": {"name": "cr"}, "mark": {"type": "line", "color": "#ee1c1c", "strokeWidth": 3, "strokeDash": [8, 3], "clip": true}, "encoding": {}},
{"data": {"name": "fermi"}, "mark": {"type": "rule", "color": "#2a2aee", "strokeWidth": 2, "strokeDash": [7, 5]}, "encoding": {"x": {"field": "x", "type": "quantitative"}, "y": {"datum": 0}, "y2": {"datum": 1}}},
{"data": {"values": [{"lab": "(c)"}]}, "mark": {"type": "text", "align": "left", "baseline": "middle", "fontSize": 24, "color": "black"}, "encoding": {"x": {"datum": -4.84}, "y": {"datum": 0.85}, "text": {"field": "lab"}}}
]
},
{
"width": 315, "height": 199,
"encoding": {
"x": {"field": "x", "type": "quantitative", "scale": {"domain": [-5, 5], "nice": false, "zero": false}, "axis": {"title": "Energy / eV", "values": [-5, -4, -3, -2, -1, 0, 1, 2, 3, 4, 5], "labelExpr": "datum.value % 2 == 0 ? '' + datum.value : ''", "tickSize": 7, "tickColor": "black", "tickWidth": 1.2, "domainColor": "black", "labelColor": "black", "labelFontSize": 13, "labelPadding": 9, "labelFlush": false, "titleFontSize": 28, "titleFontWeight": "normal", "titleColor": "black", "titlePadding": 2}},
"y": {"field": "y", "type": "quantitative", "scale": {"domain": [0, 1], "nice": false}, "axis": null}
},
"layer": [
{"data": {"name": "dm"}, "mark": {"type": "line", "color": "#ee22ee", "strokeWidth": 1.3, "clip": true}, "encoding": {}},
{"data": {"name": "db"}, "mark": {"type": "line", "color": "#2020dd", "strokeWidth": 1.5, "clip": true}, "encoding": {}},
{"data": {"name": "dk"}, "mark": {"type": "line", "color": "black", "strokeWidth": 2.6, "clip": true}, "encoding": {}},
{"data": {"name": "dr"}, "mark": {"type": "line", "color": "#ee1c1c", "strokeWidth": 3, "strokeDash": [8, 3], "clip": true}, "encoding": {}},
{"data": {"name": "fermi"}, "mark": {"type": "rule", "color": "#2a2aee", "strokeWidth": 2, "strokeDash": [7, 5]}, "encoding": {"x": {"field": "x", "type": "quantitative"}, "y": {"datum": 0}, "y2": {"datum": 1}}},
{"data": {"values": [{"lab": "(d)"}]}, "mark": {"type": "text", "align": "left", "baseline": "middle", "fontSize": 24, "color": "black"}, "encoding": {"x": {"datum": -4.72}, "y": {"datum": 0.86}, "text": {"field": "lab"}}}
]
}
]
}
